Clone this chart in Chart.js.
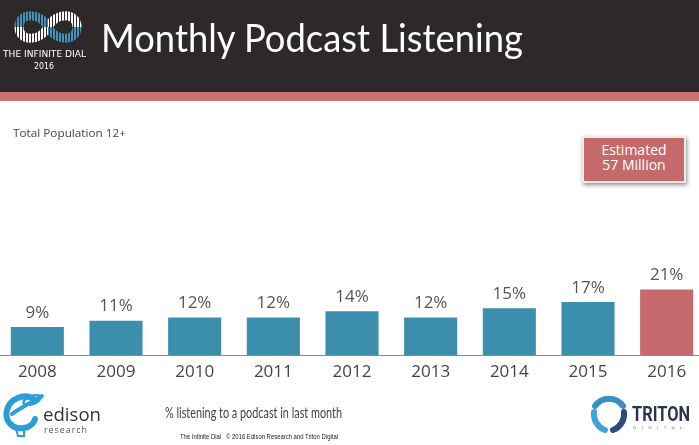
<!DOCTYPE html>
<html>
<head>
<meta charset="utf-8">
<script src="https://cdn.jsdelivr.net/npm/chart.js@4"></script>
<style>
  html,body{margin:0;padding:0;width:699px;height:445px;overflow:hidden;background:#fff;font-family:"Open Sans",sans-serif;}
  #header{position:absolute;left:0;top:0;width:699px;height:92px;background:#2d2829;}
  #band{position:absolute;left:0;top:92px;width:699px;height:9px;background:#c87272;}
  .fit{position:absolute;white-space:nowrap;transform-origin:0 0;}
  #title{left:101px;top:14px;color:#fff;font-family:Lato,sans-serif;font-size:39px;line-height:46px;}
  #logoText{left:3px;top:49px;color:#fff;font-family:"DejaVu Sans",sans-serif;font-size:9px;line-height:10px;}
  #logoYear{left:34px;top:61px;color:#fff;font-family:"DejaVu Sans",sans-serif;font-size:9px;line-height:10px;}
  #pop{left:13px;top:126px;color:#444;font-family:"Open Sans",sans-serif;font-size:11px;line-height:14px;}
  #est{position:absolute;left:582px;top:136px;width:100px;height:39px;background:#c46a6b;border:2px solid #f4eaea;box-shadow:1px 2px 4px rgba(0,0,0,0.45);color:#fff;font-family:"Open Sans",sans-serif;font-size:14px;line-height:15px;text-align:center;padding-top:4px;box-sizing:content-box;}
  #est div{height:15px;}
  #wrap{position:absolute;left:-2px;top:100px;width:708px;height:290px;}
  #xtitle{left:165px;top:403px;color:#444;font-family:Lato,sans-serif;font-size:15px;line-height:18px;}
  #copy{left:180px;top:432px;color:#222;font-family:"Liberation Sans",sans-serif;font-size:8px;line-height:10px;}
  #edtxt{left:43px;top:403px;color:#333;font-family:"Open Sans",sans-serif;font-size:19px;line-height:22px;}
  #edres{left:44px;top:425px;color:#555;font-family:"Open Sans",sans-serif;font-size:9px;line-height:10px;letter-spacing:1px;}
  #tri{left:632px;top:402px;color:#2b3350;font-family:"Roboto",sans-serif;font-weight:bold;font-size:20px;line-height:24px;}
  #trid{left:633px;top:425px;color:#8a90a0;font-family:"Roboto",sans-serif;font-size:4px;line-height:5px;letter-spacing:4px;}
</style>
</head>
<body>
<div id="header"></div>
<div id="band"></div>
<svg style="position:absolute;left:14px;top:8px" width="68" height="38" viewBox="0 0 68 38">
  <defs>
    <pattern id="stripes" width="3" height="38" patternUnits="userSpaceOnUse">
      <rect x="0" y="0" width="2" height="38" fill="#fff"/>
    </pattern>
    <pattern id="stripesB" width="3" height="38" patternUnits="userSpaceOnUse">
      <rect x="0" y="0" width="2" height="38" fill="#3f93bd"/>
    </pattern>
    <mask id="m"><rect width="68" height="38" fill="#000"/>
      <path d="M34 19 C26 4,5 4,5 19 C5 34,26 34,34 19 C42 4,63 4,63 19 C63 34,42 34,34 19 Z" fill="none" stroke="#fff" stroke-width="9"/>
    </mask>
  </defs>
  <g mask="url(#m)">
    <rect x="0" y="0" width="34" height="19" fill="url(#stripesB)"/>
    <rect x="0" y="19" width="34" height="19" fill="url(#stripes)"/>
    <rect x="34" y="0" width="34" height="19" fill="url(#stripes)"/>
    <rect x="34" y="19" width="34" height="19" fill="url(#stripesB)"/>
  </g>
</svg>
<div id="logoText" class="fit" data-w="83">THE INFINITE DIAL</div>
<div id="logoYear" class="fit" data-w="20">2016</div>
<div id="title" class="fit" data-w="422">Monthly Podcast Listening</div>
<div id="pop" class="fit" data-w="113">Total Population 12+</div>
<div id="est"><div>Estimated</div><div>57 Million</div></div>
<div id="wrap"><canvas id="c"></canvas></div>
<div id="xtitle" class="fit" data-w="177">% listening to a podcast in last month</div>
<div id="copy" class="fit" data-w="158">The Infinite Dial&nbsp;&nbsp; © 2016 Edison Research and Triton Digital</div>
<svg style="position:absolute;left:2px;top:392px" width="44" height="46" viewBox="0 0 44 46">
  <path d="M30 6 C22 2,8 6,5 18 C2 30,12 38,22 36 C28 35,32 31,33 27" fill="none" stroke="#2a9ed8" stroke-width="6" stroke-linecap="round"/>
  <path d="M10 22 C18 16,30 10,40 4" fill="none" stroke="#2a9ed8" stroke-width="4" stroke-linecap="round"/>
  <ellipse cx="30" cy="8" rx="9" ry="4" fill="none" stroke="#2a9ed8" stroke-width="2.5" transform="rotate(-20 30 8)"/>
  <path d="M14 37 L16 44 L22 44 L22 37" fill="none" stroke="#2a9ed8" stroke-width="2"/>
</svg>
<div id="edtxt" class="fit" data-w="58">edison</div>
<div id="edres" class="fit" data-w="44">research</div>
<svg style="position:absolute;left:589px;top:394px" width="40" height="40" viewBox="0 0 40 40">
  <path d="M6 12 A17 17 0 0 1 34 12" fill="none" stroke="#3a8fc4" stroke-width="6" stroke-linecap="round"/>
  <path d="M35 18 A17 17 0 0 1 24 36" fill="none" stroke="#2d4a7c" stroke-width="6" stroke-linecap="round"/>
  <path d="M16 36 A17 17 0 0 1 5 18" fill="none" stroke="#3da3d8" stroke-width="6" stroke-linecap="round"/>
</svg>
<div id="tri" class="fit" data-w="58">TRITON</div>
<div id="trid" class="fit" data-w="55">DIGITAL</div>
<script>
const years = ["2008","2009","2010","2011","2012","2013","2014","2015","2016"];
const listeningPct = [9, 11, 12, 12, 14, 12, 15, 17, 21];
const barColors = ["#3b8fad","#3b8fad","#3b8fad","#3b8fad","#3b8fad","#3b8fad","#3b8fad","#3b8fad","#c66b6d"];

document.querySelectorAll('.fit').forEach(el => {
  const target = parseFloat(el.dataset.w);
  const w = el.getBoundingClientRect().width;
  if (w > 0) el.style.transform = 'scaleX(' + (target / w) + ')';
});

const valueLabels = {
  id: 'valueLabels',
  afterDatasetsDraw(chart) {
    const ctx = chart.ctx;
    const meta = chart.getDatasetMeta(0);
    ctx.save();
    ctx.font = '17px "Open Sans", sans-serif';
    ctx.fillStyle = '#555';
    ctx.textAlign = 'center';
    ctx.textBaseline = 'middle';
    meta.data.forEach((bar, i) => {
      ctx.fillText(listeningPct[i] + '%', bar.x, bar.y - 14);
    });
    ctx.restore();
  }
};

new Chart(document.getElementById('c'), {
  type: 'bar',
  data: {
    labels: years,
    datasets: [{
      data: listeningPct,
      backgroundColor: barColors,
      borderWidth: 0,
      barPercentage: 0.675,
      categoryPercentage: 1
    }]
  },
  options: {
    responsive: true,
    maintainAspectRatio: false,
    animation: false,
    layout: { padding: { top: 5, left: 0, right: 0, bottom: 0 } },
    plugins: { legend: { display: false }, tooltip: { enabled: false } },
    scales: {
      x: {
        grid: { display: false, drawTicks: false },
        border: { display: true, color: '#8a8a8a', width: 1 },
        ticks: { color: '#444', font: { family: '"Open Sans", sans-serif', size: 17 }, padding: 7, maxRotation: 0 },
        afterFit(axis) { axis.height = 35; }
      },
      y: {
        display: false,
        min: 0,
        max: 80
      }
    }
  },
  plugins: [valueLabels]
});
</script>
</body>
</html>
